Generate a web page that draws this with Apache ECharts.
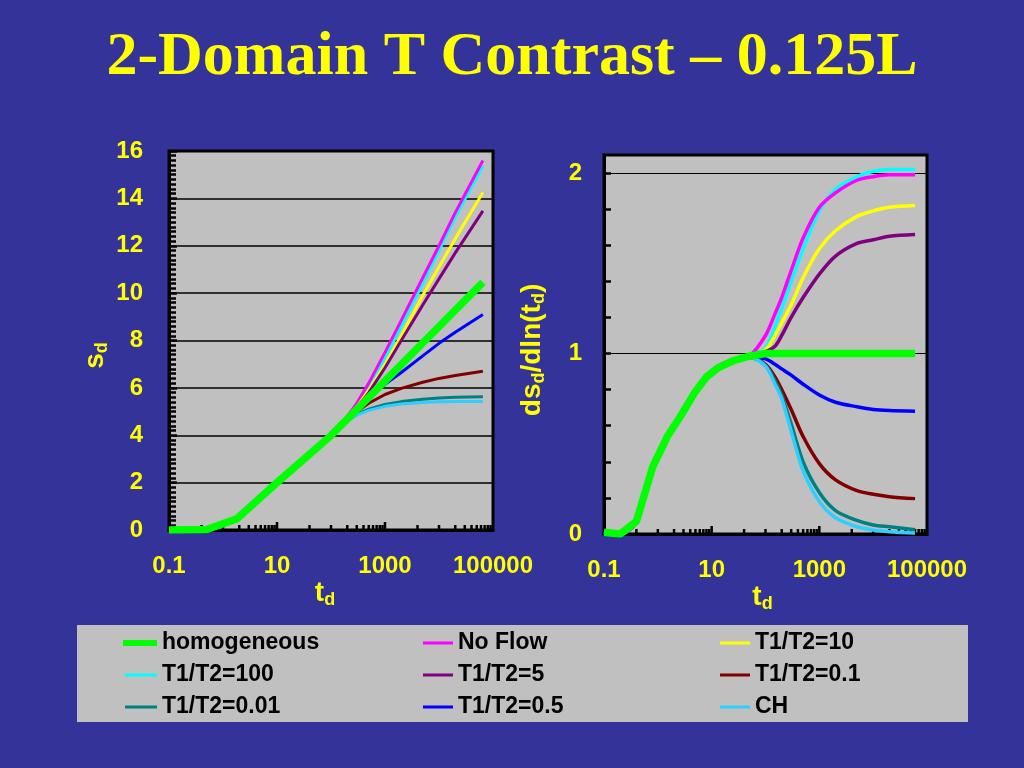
<!DOCTYPE html>
<html><head><meta charset="utf-8">
<script src="https://cdn.jsdelivr.net/npm/echarts@6/dist/echarts.min.js"></script>
<style>html,body{margin:0;padding:0;background:#333399;} #c{width:1024px;height:768px;}</style>
</head><body><div id="c"></div>
<script>
// ---------------- DATA ----------------
const titleText = '2-Domain T Contrast \u2013 0.125L';
const seriesNames = ['T1/T2=100','No Flow','T1/T2=10','T1/T2=5','T1/T2=0.5','T1/T2=0.1','T1/T2=0.01','CH','homogeneous'];
const xTickLabels = ['0.1', '10', '1000', '100000'];
const xMajorTicks = [10, 1000];
const xMinorTicks = [0.4,1,2,3,4,5,6,7,8,9, 40,100,200,300,400,500,600,700,800,900, 4000,10000,20000,30000,40000,50000,60000,70000,80000,90000];

// Left chart: s_d vs t_d
const tdLeft = [0.1,0.5,1.8,5,10,30,100,150,200,300,500,1000,2000,5000,10000,20000,65000];
const sdHomogeneous = [0,0.02,0.47,1.38,2.0,2.95,3.99,4.40,4.68,5.09,5.6,6.29,6.98,7.9,8.59,9.28,10.45];
const sdNoFlow      = [0,0.02,0.47,1.38,2.0,2.95,3.99,4.45,4.8,5.35,6.2,7.5,8.85,10.65,12.0,13.4,15.6];
const sdT100        = [0,0.02,0.47,1.38,2.0,2.95,3.99,4.45,4.75,5.25,6.05,7.25,8.6,10.4,11.8,13.2,15.38];
const sdT10         = [0,0.02,0.47,1.38,2.0,2.95,3.99,4.45,4.75,5.2,5.9,7.0,8.2,9.9,11.1,12.3,14.25];
const sdT5          = [0,0.02,0.47,1.38,2.0,2.95,3.99,4.43,4.72,5.15,5.8,6.85,8.0,9.5,10.6,11.7,13.47];
const sdT05         = [0,0.02,0.47,1.38,2.0,2.95,3.99,4.42,4.7,5.1,5.58,6.15,6.65,7.35,7.88,8.35,9.1];
const sdT01         = [0,0.02,0.47,1.38,2.0,2.95,3.99,4.40,4.66,5.0,5.35,5.72,5.98,6.24,6.4,6.52,6.7];
const sdT001        = [0,0.02,0.47,1.38,2.0,2.95,3.99,4.38,4.62,4.88,5.1,5.3,5.42,5.52,5.57,5.6,5.63];
const sdCH          = [0,0.02,0.47,1.38,2.0,2.95,3.99,4.37,4.6,4.85,5.05,5.22,5.32,5.38,5.41,5.42,5.43];

// Right chart: ds_d/dln(t_d) vs t_d
const tdRight = [0.1,0.2,0.4,0.8,1.5,2.6,5,8,13,25,50,100,150,200,300,500,1000,2000,5000,10000,20000,60000];
const dHomogeneous = [0.01,0.0,0.07,0.37,0.54,0.65,0.79,0.87,0.92,0.96,0.985,1.0,1.0,1.0,1.0,1.0,1.0,1.0,1.0,1.0,1.0,1.0];
const dNoFlow = [0.01,0.0,0.07,0.37,0.54,0.65,0.79,0.87,0.92,0.96,0.985,1.10,1.22,1.31,1.46,1.64,1.81,1.89,1.96,1.98,1.99,1.99];
const dT100   = [0.01,0.0,0.07,0.37,0.54,0.65,0.79,0.87,0.92,0.96,0.985,1.03,1.15,1.25,1.40,1.58,1.79,1.91,1.98,2.01,2.02,2.02];
const dT10    = [0.01,0.0,0.07,0.37,0.54,0.65,0.79,0.87,0.92,0.96,0.985,1.02,1.10,1.17,1.27,1.42,1.58,1.68,1.76,1.79,1.81,1.82];
const dT5     = [0.01,0.0,0.07,0.37,0.54,0.65,0.79,0.87,0.92,0.96,0.985,1.01,1.04,1.10,1.20,1.31,1.44,1.54,1.61,1.63,1.65,1.66];
const dT05    = [0.01,0.0,0.07,0.37,0.54,0.65,0.79,0.87,0.92,0.96,0.98,0.97,0.94,0.915,0.88,0.83,0.77,0.73,0.705,0.69,0.684,0.68];
const dT01    = [0.01,0.0,0.07,0.37,0.54,0.65,0.79,0.87,0.92,0.96,0.98,0.94,0.87,0.80,0.69,0.54,0.39,0.30,0.24,0.22,0.207,0.196];
const dT001   = [0.01,0.0,0.07,0.37,0.54,0.65,0.79,0.87,0.92,0.96,0.98,0.935,0.85,0.77,0.61,0.40,0.23,0.13,0.075,0.05,0.04,0.024];
const dCH     = [0.01,0.0,0.07,0.37,0.54,0.65,0.79,0.87,0.92,0.96,0.98,0.93,0.83,0.75,0.57,0.35,0.18,0.09,0.04,0.022,0.013,0.005];

// ---------------- STYLE ----------------
const colors = {
  'homogeneous':'#00FF00','No Flow':'#FF00FF','T1/T2=10':'#FFFF00','T1/T2=100':'#00FFFF',
  'T1/T2=5':'#800080','T1/T2=0.1':'#800000','T1/T2=0.01':'#008080','T1/T2=0.5':'#0000FF','CH':'#33CCFF'
};
const leftData = {
  'homogeneous':sdHomogeneous,'No Flow':sdNoFlow,'T1/T2=10':sdT10,'T1/T2=100':sdT100,'T1/T2=5':sdT5,
  'T1/T2=0.1':sdT01,'T1/T2=0.01':sdT001,'T1/T2=0.5':sdT05,'CH':sdCH
};
const rightData = {
  'homogeneous':dHomogeneous,'No Flow':dNoFlow,'T1/T2=10':dT10,'T1/T2=100':dT100,'T1/T2=5':dT5,
  'T1/T2=0.1':dT01,'T1/T2=0.01':dT001,'T1/T2=0.5':dT05,'CH':dCH
};
const SANS = 'Liberation Sans, Arial, sans-serif';
const YEL = '#FFFF00';
const nameRich = {
  m:{fontSize:28, fontWeight:'bold', color:YEL, fontFamily:SANS, lineHeight:32},
  s:{fontSize:18, fontWeight:'bold', color:YEL, fontFamily:SANS, lineHeight:18, verticalAlign:'bottom'}
};

function xLabelFmt(v){
  const s = String(+Number(v).toPrecision(6));
  return xTickLabels.indexOf(s) >= 0 ? s : '';
}

function xAxisCfg(gi, padRight){
  return {
    type:'log', logBase:10, gridIndex:gi, min:0.1, max:100000,
    axisLine:{show:true, lineStyle:{color:'#000', width:3}},
    axisTick:{show:false}, splitLine:{show:false}, minorTick:{show:false},
    axisLabel:{color:YEL, fontWeight:'bold', fontSize:24, fontFamily:SANS, margin:24, formatter:xLabelFmt},
    name:'{m|t}{s|d}', nameLocation:'middle', nameGap:42,
    nameTextStyle:{rich:nameRich, padding:[0,padRight,0,0]}
  };
}

function tickSeries(xi, yi){
  const all = xMinorTicks.concat(xMajorTicks);
  return {
    type:'custom', xAxisIndex:xi, yAxisIndex:yi, silent:true, z:1,
    data: all.map(t => [t, 0]),
    renderItem: function(params, api){
      const t = api.value(0);
      const p = api.coord([t, api.value(1)]);
      const len = xMajorTicks.indexOf(t) >= 0 ? 8 : 5;
      return {type:'line', shape:{x1:p[0], y1:p[1], x2:p[0], y2:p[1]-len},
              style:{stroke:'#000', lineWidth:2.5}};
    }
  };
}

const series = [tickSeries(0,0), tickSeries(1,1)];
seriesNames.forEach(function(n){
  const homog = n === 'homogeneous';
  series.push({
    name:n, type:'line', xAxisIndex:0, yAxisIndex:0, showSymbol:false, symbol:'none',
    color:colors[n], lineStyle:{width: homog ? 7.5 : 3, color:colors[n]},
    z: homog ? 5 : 3,
    data: tdLeft.map((t,i) => [t, leftData[n][i]])
  });
});
seriesNames.forEach(function(n){
  const homog = n === 'homogeneous';
  series.push({
    name:n, type:'line', xAxisIndex:1, yAxisIndex:1, showSymbol:false, symbol:'none',
    smooth: homog ? false : 0.3,
    color:colors[n], lineStyle:{width: homog ? 7.5 : 3.5, color:colors[n]},
    z: homog ? 5 : 3,
    data: tdRight.map((t,i) => [t, rightData[n][i]])
  });
});

const legendText = {color:'#000', fontWeight:'bold', fontSize:23, fontFamily:SANS, lineHeight:24};
function legendCfg(names, left, top, w, h){
  return {orient:'vertical', left:left, top:top, itemWidth:w, itemHeight:h, itemGap:8,
          icon:'rect', selectedMode:false, data:names, textStyle:legendText, padding:0};
}

const option = {
  backgroundColor:'#333399',
  animation:false,
  title:{text:titleText, left:'center', top:22,
    textStyle:{color:YEL, fontFamily:'Liberation Serif, Times New Roman, serif', fontWeight:'bold', fontSize:62}},
  graphic:[{type:'rect', left:77, top:625, z:-10, shape:{width:891, height:97}, style:{fill:'#C0C0C0'}}],
  legend:[
    legendCfg(['homogeneous'], 123, 631, 34, 6),
    legendCfg(['T1/T2=100','T1/T2=0.01'], 125, 663, 32, 3),
    legendCfg(['No Flow','T1/T2=5','T1/T2=0.5'], 423, 631, 30, 3),
    legendCfg(['T1/T2=10','T1/T2=0.1','CH'], 720, 631, 30, 3)
  ],
  grid:[
    {left:169, top:151, width:324, height:379, show:true, backgroundColor:'#C0C0C0', borderColor:'#000', borderWidth:3},
    {left:604, top:155, width:323, height:379, show:true, backgroundColor:'#C0C0C0', borderColor:'#000', borderWidth:3}
  ],
  xAxis:[xAxisCfg(0, 12), xAxisCfg(1, 6)],
  yAxis:[
    {type:'value', gridIndex:0, min:0, max:16, interval:2,
     axisLine:{show:true, lineStyle:{color:'#000', width:3}},
     axisTick:{show:true, inside:true, length:8, lineStyle:{color:'#000', width:2.5}},
     minorTick:{show:true, splitNumber:10, length:7, lineStyle:{color:'#000', width:2.5}},
     splitLine:{show:true, lineStyle:{color:'#000', width:1.5}},
     axisLabel:{color:YEL, fontWeight:'bold', fontSize:24, fontFamily:SANS, margin:26},
     name:'{m|s}{s|d}', nameLocation:'middle', nameRotate:90, nameGap:58,
     nameTextStyle:{rich:nameRich, padding:[0,30,0,0]}},
    {type:'value', gridIndex:1, min:0, max:2.1, interval:0.2,
     axisLine:{show:true, lineStyle:{color:'#000', width:3}},
     axisTick:{show:true, inside:true, length:7, lineStyle:{color:'#000', width:2.5}},
     splitLine:{show:true, lineStyle:{color:['#000','rgba(0,0,0,0)','rgba(0,0,0,0)','rgba(0,0,0,0)','rgba(0,0,0,0)'], width:1.2}},
     axisLabel:{color:YEL, fontWeight:'bold', fontSize:24, fontFamily:SANS, margin:22, showMaxLabel:false,
       formatter:function(v){ return (Math.abs(v-Math.round(v))<1e-6 && v<=2.0001) ? String(Math.round(v)) : ''; }},
     name:'{m|ds}{s|d}{m|/dln(t}{s|d}{m|)}', nameLocation:'middle', nameRotate:90, nameGap:56,
     nameTextStyle:{rich:nameRich, padding:[0,11,0,0]}}
  ],
  series:series
};
const chart = echarts.init(document.getElementById('c'), null, {renderer:'canvas'});
chart.setOption(option);
</script></body></html>
